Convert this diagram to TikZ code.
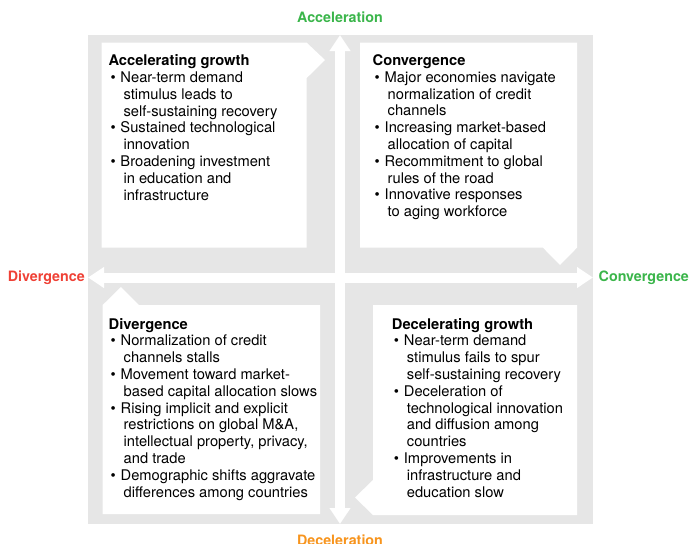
\documentclass[tikz,border=0pt]{standalone}
\usepackage{fontspec}
\setmainfont{TeX Gyre Heros}
\usetikzlibrary{arrows.meta}
\usetikzlibrary{positioning}

\definecolor{panel}{HTML}{E6E6E6}
\definecolor{upgreen}{HTML}{3AB54A}
\definecolor{downred}{HTML}{EF4136}
\definecolor{downorange}{HTML}{F7941D}

% bullet and hanging indent for the scenario lists
\newcommand{\itm}{\hspace*{2pt}\makebox[10pt][l]{\textbullet}}
\newcommand{\cnt}{\hspace*{15pt}}

\tikzset{
    card/.style={
      anchor=north west,
           inner sep=0pt,
           align=left,
           font=\fontsize{14.7}{16.8}\selectfont,
           },
}
\tikzset{
    axis/.style={
      draw=white, line width=10pt,
           {Triangle[width=20pt,length=16pt]}-{Triangle[width=20pt,length=16pt]},
           },
}
\tikzset{
    lab/.style={
      inner sep=0pt,
           font=\fontsize{14.3}{16}\selectfont\bfseries,
           },
}

\begin{document}
\begin{tikzpicture}[x=1pt,y=-1pt]
\useasboundingbox (0,0) rectangle (689,544);

\fill[panel] (88,35) rectangle (593,524);

\coordinate (top) at (340,35);
\coordinate (bot) at (340,524);
\coordinate (lft) at (88,277.5);
\coordinate (rgt) at (593,277.5);

\path (lft) edge[axis] (rgt);
\path (top) edge[axis] (bot);

% white panels, each with a small tail at one corner
\fill[white] (101.7,42.7) -- (306.7,42.7) -- (325,60) -- (306.7,78)
  -- (306.7,247.7) -- (101.7,247.7) -- cycle;
\fill[white] (360,42.7) -- (577,42.7) -- (577,247.7) -- (560,265)
  -- (543,247.7) -- (360,247.7) -- cycle;
\fill[white] (102.7,305) -- (121,287) -- (139,305) -- (320,305)
  -- (320,514) -- (102.7,514) -- cycle;
\fill[white] (373,305) -- (577,305) -- (577,515) -- (373,515)
  -- (355,497.5) -- (373,480) -- cycle;

\node[lab,text=upgreen,above = 12pt of top](acc){Acceleration};
\node[lab,text=downorange,below = 11pt of bot](dec){Deceleration};
\node[lab,text=downred,left = 3pt of lft](div){Divergence};
\node[lab,text=upgreen,right = 5.5pt of rgt](con){Convergence};

\node[card] (ag) at (108.3,54.5) {\textbf{Accelerating growth}\\
\itm Near-term demand\\
\cnt stimulus leads to\\
\cnt self-sustaining recovery\\
\itm Sustained technological\\
\cnt innovation\\
\itm Broadening investment\\
\cnt in education and\\
\cnt infrastructure};

\node[card] (cv) at (372.5,54.5) {\textbf{Convergence}\\
\itm Major economies navigate\\
\cnt normalization of credit\\
\cnt channels\\
\itm Increasing market-based\\
\cnt allocation of capital\\
\itm Recommitment to global\\
\cnt rules of the road\\
\itm Innovative responses\\
\cnt to aging workforce};

\node[card] (dv) at (108.5,317.9) {\textbf{Divergence}\\
\itm Normalization of credit\\
\cnt channels stalls\\
\itm Movement toward market-\\
\cnt based capital allocation slows\\
\itm Rising implicit and explicit\\
\cnt restrictions on global M\&A,\\
\cnt intellectual property, privacy,\\
\cnt and trade\\
\itm Demographic shifts aggravate\\
\cnt differences among countries};

\node[card] (dg) at (391.7,317.9) {\textbf{Decelerating growth}\\
\itm Near-term demand\\
\cnt stimulus fails to spur\\
\cnt self-sustaining recovery\\
\itm Deceleration of\\
\cnt technological innovation\\
\cnt and diffusion among\\
\cnt countries\\
\itm Improvements in\\
\cnt infrastructure and\\
\cnt education slow};

\end{tikzpicture}
\end{document}
